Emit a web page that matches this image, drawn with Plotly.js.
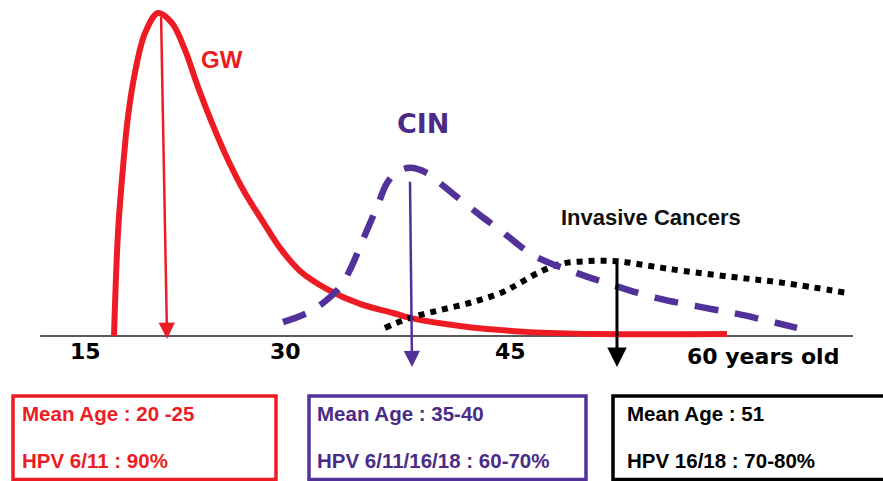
<!DOCTYPE html>
<html>
<head>
<meta charset="utf-8">
<script src="https://cdn.plot.ly/plotly-3.0.1.min.js"></script>
<style>
  html, body { margin: 0; padding: 0; background: #ffffff; }
  #chart { width: 883px; height: 481px; }
</style>
</head>
<body>
<div id="chart"></div>
<script>
// ---- Data (age in years, relative frequency) ----
const gwAge = [17.05, 17.34, 17.71, 18.07, 18.58, 19.32, 20.27, 21.29, 22.24, 23.19, 24.22, 25.39, 26.63, 27.87, 29.19, 30.65, 32.63, 35.04, 37.46, 38.70, 42.36, 47.48, 52.60, 61.89];
const gwVal = [0, 31.8, 52.2, 67.6, 81.2, 93.5, 99.7, 96.6, 88.3, 76.9, 65.7, 54.3, 44.1, 35.8, 27.2, 20.1, 14.5, 9.9, 7.1, 5.6, 3.1, 1.2, 0.6, 0.6];

const cinAge = [29.41, 31.17, 32.34, 33.58, 34.31, 35.04, 35.78, 36.29, 37.02, 37.75, 38.70, 39.95, 40.90, 42.14, 43.82, 45.29, 47.70, 50.92, 53.55, 56.77, 59.92, 62.99, 67.01];
const cinVal = [4.3, 7.1, 10.2, 15.1, 20.4, 27.5, 34.9, 39.8, 47.2, 50.6, 51.9, 50.3, 47.2, 42.9, 37.3, 32.7, 25.0, 19.4, 15.7, 11.7, 9.0, 6.5, 2.5];

const cancerAge = [36.87, 38.70, 40.90, 43.31, 45.50, 46.75, 48.21, 49.67, 51.65, 53.84, 56.26, 58.67, 62.33, 65.99, 70.67];
const cancerVal = [2.5, 5.6, 8.0, 10.5, 13.6, 16.4, 19.8, 22.2, 23.1, 23.1, 21.6, 20.1, 18.2, 16.4, 13.3];

// mean-age arrows: [tailAge, tailVal, tipAge, tipVal]
const gwArrow = [20.49, 99.1, 20.93, -0.9];
const cinArrow = [38.70, 48.1, 38.85, -9.6];
const cancerArrow = [53.84, 23.1, 53.84, -9.6];

const tickVals = [15, 30, 45, 60];
const tickText = ['15', '30', '45', '60 years old'];

const seriesNames = ['GW', 'CIN', 'Invasive Cancers'];
const boxLine1 = ['Mean Age : 20 -25', 'Mean Age : 35-40', 'Mean Age : 51'];
const boxLine2 = ['HPV 6/11 : 90%', 'HPV 6/11/16/18 : 60-70%', 'HPV 16/18 : 70-80%'];

// ---- Styles ----
const RED = '#ED1C24';
const PURPLE = '#52329A';
const PURPLE_TXT = '#4A2C86';
const BLACK = '#000000';
const W = 883, H = 481;
const px2paperX = p => p / W;
const px2paperY = p => 1 - p / H;

const traces = [
  { x: gwAge, y: gwVal, mode: 'lines', name: seriesNames[0],
    line: { color: RED, width: 6, shape: 'spline', smoothing: 1 } },
  { x: cancerAge, y: cancerVal, mode: 'lines', name: seriesNames[2],
    line: { color: BLACK, width: 6, shape: 'spline', smoothing: 1, dash: '6px,6px' } },
  { x: cinAge, y: cinVal, mode: 'lines', name: seriesNames[1],
    line: { color: PURPLE, width: 6.5, shape: 'spline', smoothing: 1, dash: '24px,17px' } }
];

function arrowAnn(a, color, width) {
  return { x: a[2], y: a[3], ax: a[0], ay: a[1], xref: 'x', yref: 'y', axref: 'x', ayref: 'y',
    text: '', showarrow: true, arrowhead: 2, arrowsize: 1.3, arrowwidth: width,
    arrowcolor: color, standoff: 0, startstandoff: 0 };
}

const annotations = [
  arrowAnn(gwArrow, RED, 2.5),
  arrowAnn(cinArrow, PURPLE, 2.5),
  arrowAnn(cancerArrow, BLACK, 3),
  { x: 24.95, y: 85.2, xref: 'x', yref: 'y', text: seriesNames[0], showarrow: false,
    font: { family: 'Liberation Sans, Arial, sans-serif', size: 24, color: RED, weight: 'bold' } },
  { x: 39.65, y: 65.7, xref: 'x', yref: 'y', text: seriesNames[1], showarrow: false,
    font: { family: 'DejaVu Sans, sans-serif', size: 27, color: PURPLE_TXT, weight: 'bold' } },
  { x: 56.33, y: 36.7, xref: 'x', yref: 'y', text: seriesNames[2], showarrow: false,
    font: { family: 'Liberation Sans, Arial, sans-serif', size: 22, color: '#111111', weight: 'bold' } }
];

// axis tick labels
const tickShift = [0, -6, 14, -16];
tickText.forEach((t, i) => {
  const last = i === tickText.length - 1;
  annotations.push({ x: tickVals[i], y: -4.9, xref: 'x', yref: 'y', text: t, showarrow: false,
    xanchor: last ? 'left' : 'center', yanchor: 'middle', xshift: tickShift[i], yshift: last ? -5 : 0,
    font: { family: 'DejaVu Sans, sans-serif', size: 22, color: '#000000', weight: 'bold' } });
});

// boxes
const boxX = [[13, 276], [309, 586], [613, 892]];
const boxColor = [RED, PURPLE, BLACK];
const boxTextColor = [RED, PURPLE_TXT, '#000000'];
const boxTextX = [20, 315, 625];
const shapes = [
  { type: 'line', xref: 'x', yref: 'y', x0: 11.64, x1: 71.1, y0: 0, y1: 0,
    line: { color: '#222222', width: 1.5 }, layer: 'below' }
];
boxX.forEach((bx, i) => {
  shapes.push({ type: 'rect', xref: 'paper', yref: 'paper',
    x0: px2paperX(bx[0]), x1: px2paperX(bx[1]), y0: px2paperY(479.5), y1: px2paperY(396),
    line: { color: boxColor[i], width: 3.5 }, fillcolor: 'rgba(0,0,0,0)' });
  annotations.push({ xref: 'paper', yref: 'paper', x: px2paperX(boxTextX[i]), y: px2paperY(413),
    xanchor: 'left', yanchor: 'middle', text: boxLine1[i], showarrow: false,
    font: { family: 'Liberation Sans, Arial, sans-serif', size: 20.5, color: boxTextColor[i], weight: 'bold' } });
  annotations.push({ xref: 'paper', yref: 'paper', x: px2paperX(boxTextX[i]), y: px2paperY(460),
    xanchor: 'left', yanchor: 'middle', text: boxLine2[i], showarrow: false,
    font: { family: 'Liberation Sans, Arial, sans-serif', size: 20.5, color: boxTextColor[i], weight: 'bold' } });
});

const layout = {
  width: W, height: H,
  margin: { l: 0, r: 0, t: 0, b: 0, pad: 0 },
  paper_bgcolor: '#ffffff', plot_bgcolor: '#ffffff',
  showlegend: false,
  xaxis: { range: [8.71, 73.30], visible: false, fixedrange: true },
  yaxis: { range: [-44.75, 103.7], visible: false, fixedrange: true },
  shapes: shapes,
  annotations: annotations
};

Plotly.newPlot('chart', traces, layout, { displayModeBar: false, staticPlot: true });
</script>
</body>
</html>
